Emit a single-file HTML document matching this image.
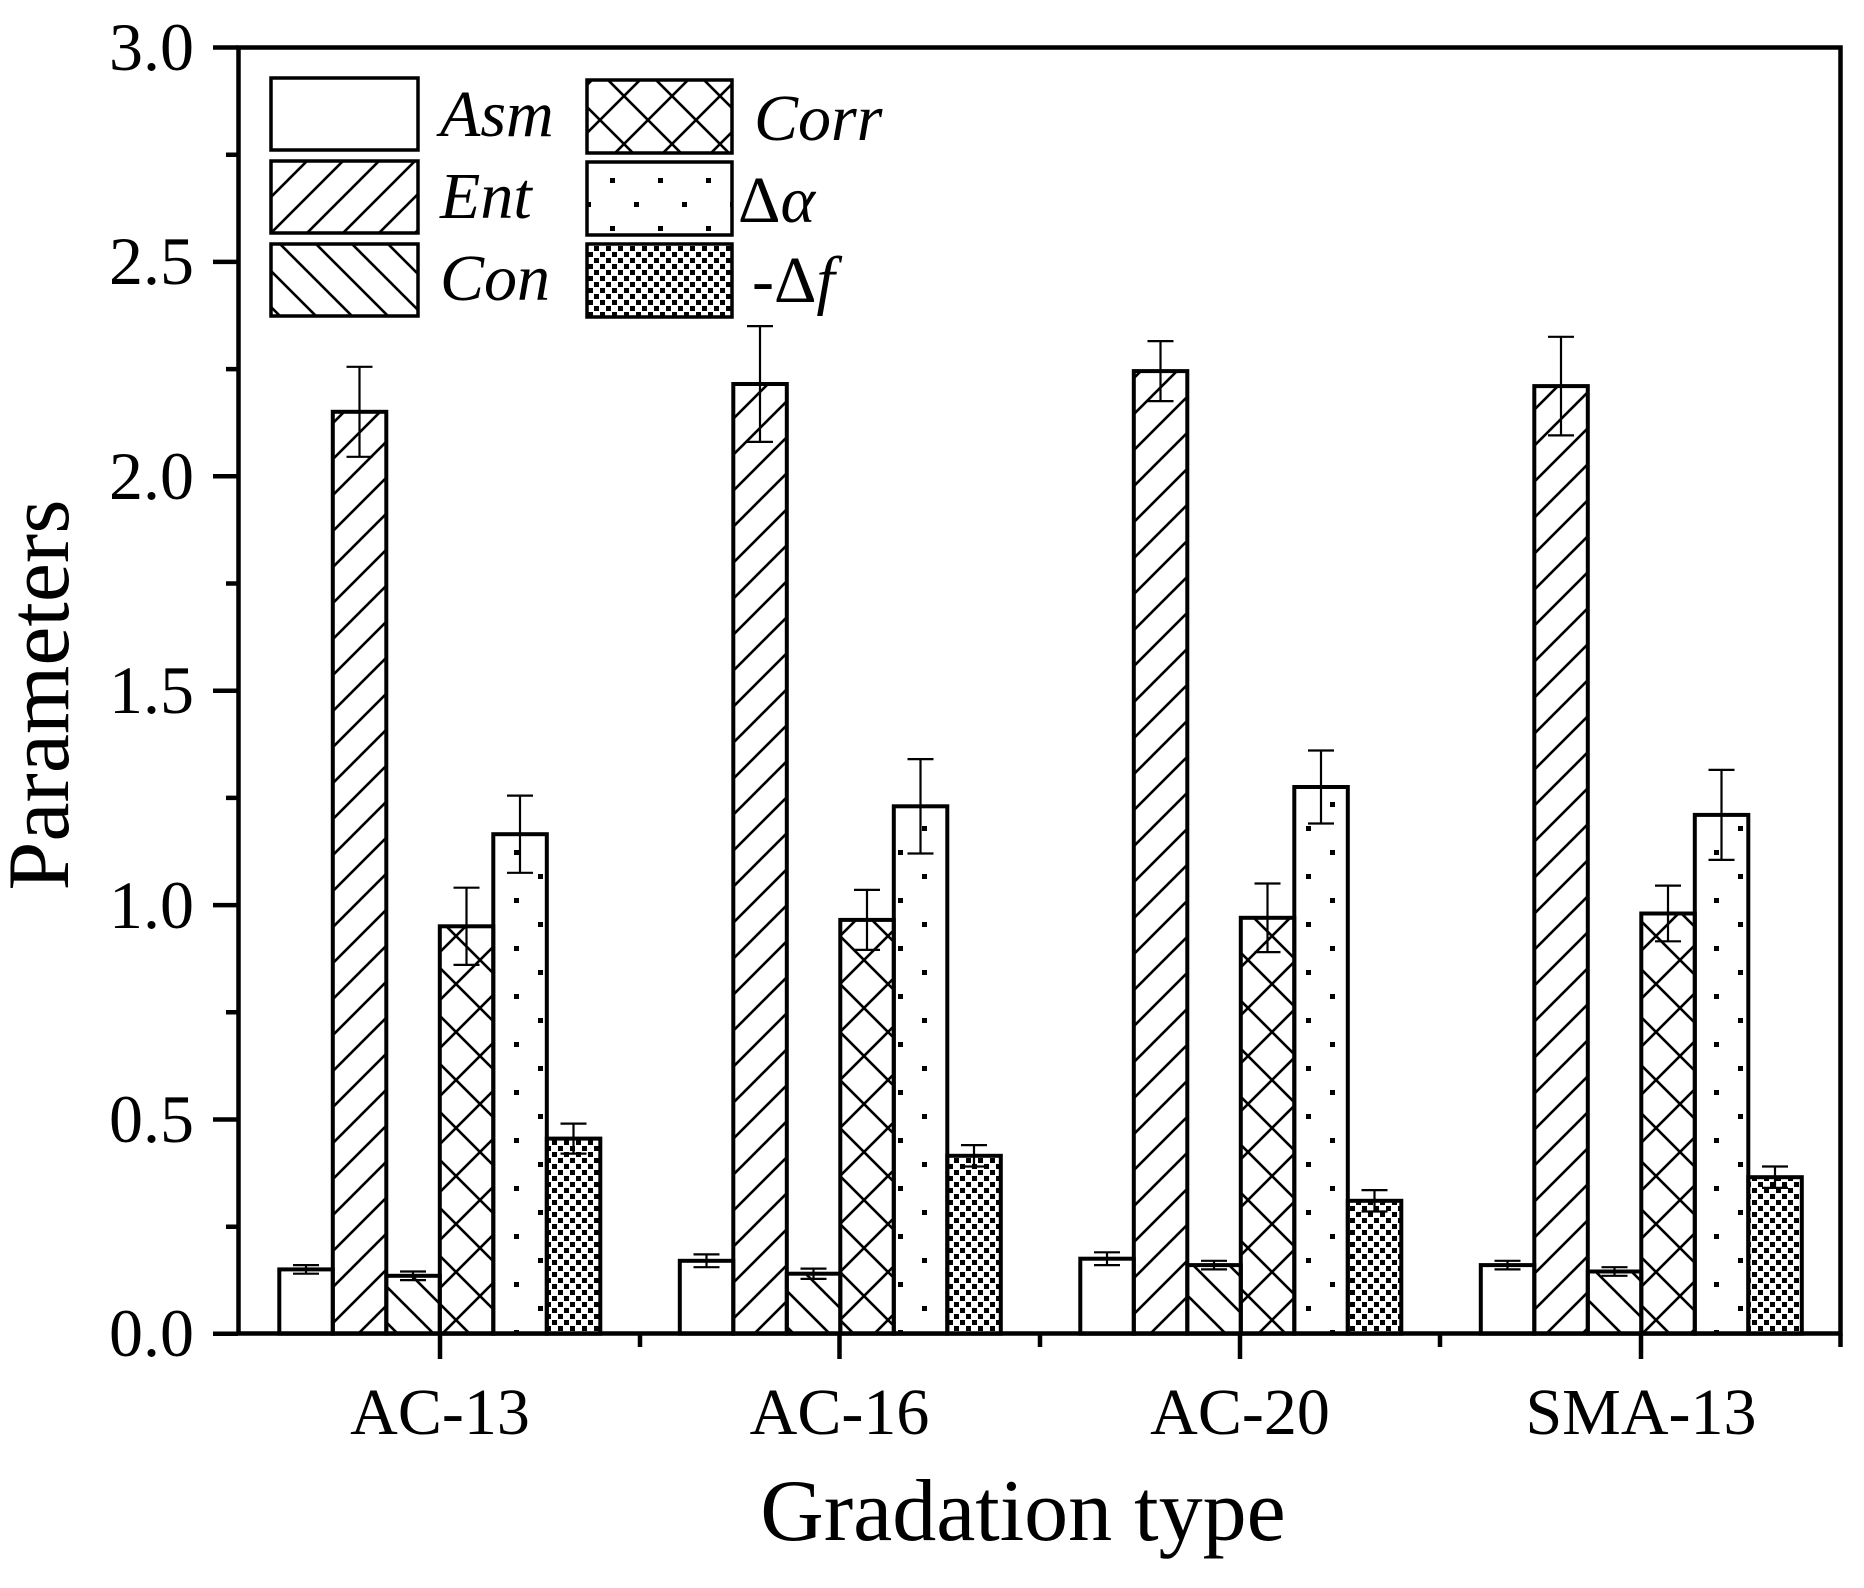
<!DOCTYPE html>
<html><head><meta charset="utf-8"><style>
html,body{margin:0;padding:0;background:#fff;}
svg{display:block;}
text{font-family:"Liberation Serif",serif;fill:#000;}
</style></head><body>
<svg width="1864" height="1588" viewBox="0 0 1864 1588" xmlns="http://www.w3.org/2000/svg">
<defs>
<pattern id="ent" patternUnits="userSpaceOnUse" width="36" height="36">
<path d="M-9,9 L9,-9 M0,36 L36,0 M27,45 L45,27" stroke="#000" stroke-width="2.6"/>
</pattern>
<pattern id="con" patternUnits="userSpaceOnUse" width="36" height="36">
<path d="M-9,27 L9,45 M0,0 L36,36 M27,-9 L45,9" stroke="#000" stroke-width="2.6"/>
</pattern>
<pattern id="corr" patternUnits="userSpaceOnUse" width="48" height="48">
<path d="M0,0 L48,48 M0,48 L48,0" stroke="#000" stroke-width="2.6"/>
</pattern>
<pattern id="dot" patternUnits="userSpaceOnUse" width="48" height="48">
<rect x="10" y="10" width="5" height="5" fill="#000"/>
<rect x="34" y="34" width="5" height="5" fill="#000"/>
</pattern>
<pattern id="chk" patternUnits="userSpaceOnUse" width="12" height="12">
<rect x="0" y="0" width="5" height="5" fill="#000"/>
<rect x="6" y="6" width="5" height="5" fill="#000"/>
</pattern>
</defs>
<rect width="1864" height="1588" fill="#fff"/>
<g stroke="#000" stroke-width="4">
<rect x="279.3" y="1269.4" width="53.5" height="64.3" fill="#fff"/>
<rect x="332.8" y="411.8" width="53.5" height="921.9" fill="url(#ent)"/>
<rect x="386.3" y="1275.8" width="53.5" height="57.9" fill="url(#con)"/>
<rect x="439.8" y="926.3" width="53.5" height="407.4" fill="url(#corr)"/>
<rect x="493.3" y="834.2" width="53.5" height="499.5" fill="url(#dot)"/>
<rect x="546.8" y="1138.6" width="53.5" height="195.1" fill="url(#chk)"/>
<rect x="679.8" y="1260.8" width="53.5" height="72.9" fill="#fff"/>
<rect x="733.3" y="384.0" width="53.5" height="949.7" fill="url(#ent)"/>
<rect x="786.8" y="1273.7" width="53.5" height="60.0" fill="url(#con)"/>
<rect x="840.3" y="919.9" width="53.5" height="413.8" fill="url(#corr)"/>
<rect x="893.8" y="806.3" width="53.5" height="527.4" fill="url(#dot)"/>
<rect x="947.3" y="1155.8" width="53.5" height="177.9" fill="url(#chk)"/>
<rect x="1080.3" y="1258.7" width="53.5" height="75.0" fill="#fff"/>
<rect x="1133.8" y="371.1" width="53.5" height="962.6" fill="url(#ent)"/>
<rect x="1187.3" y="1265.1" width="53.5" height="68.6" fill="url(#con)"/>
<rect x="1240.8" y="917.8" width="53.5" height="415.9" fill="url(#corr)"/>
<rect x="1294.3" y="787.0" width="53.5" height="546.7" fill="url(#dot)"/>
<rect x="1347.8" y="1200.8" width="53.5" height="132.9" fill="url(#chk)"/>
<rect x="1480.8" y="1265.1" width="53.5" height="68.6" fill="#fff"/>
<rect x="1534.3" y="386.1" width="53.5" height="947.6" fill="url(#ent)"/>
<rect x="1587.8" y="1271.5" width="53.5" height="62.2" fill="url(#con)"/>
<rect x="1641.3" y="913.5" width="53.5" height="420.2" fill="url(#corr)"/>
<rect x="1694.8" y="814.9" width="53.5" height="518.8" fill="url(#dot)"/>
<rect x="1748.3" y="1177.2" width="53.5" height="156.5" fill="url(#chk)"/>
</g>
<g stroke="#000" stroke-width="2.2" fill="none">
<path d="M306,1265.1V1273.7M293,1265.1H319M293,1273.7H319"/>
<path d="M359.5,366.8V456.8M346.5,366.8H372.5M346.5,456.8H372.5"/>
<path d="M413,1271.5V1280.1M400,1271.5H426M400,1280.1H426"/>
<path d="M466.5,887.7V964.9M453.5,887.7H479.5M453.5,964.9H479.5"/>
<path d="M520,795.6V872.8M507,795.6H533M507,872.8H533"/>
<path d="M573.5,1123.6V1153.6M560.5,1123.6H586.5M560.5,1153.6H586.5"/>
<path d="M706.5,1254.4V1267.2M693.5,1254.4H719.5M693.5,1267.2H719.5"/>
<path d="M760,326.1V441.9M747,326.1H773M747,441.9H773"/>
<path d="M813.5,1268.6V1278.9M800.5,1268.6H826.5M800.5,1278.9H826.5"/>
<path d="M867,889.9V949.9M854,889.9H880M854,949.9H880"/>
<path d="M920.5,759.1V853.5M907.5,759.1H933.5M907.5,853.5H933.5"/>
<path d="M974,1145.1V1166.5M961,1145.1H987M961,1166.5H987"/>
<path d="M1107,1252.3V1265.1M1094,1252.3H1120M1094,1265.1H1120"/>
<path d="M1160.5,341.1V401.1M1147.5,341.1H1173.5M1147.5,401.1H1173.5"/>
<path d="M1214,1260.8V1269.4M1201,1260.8H1227M1201,1269.4H1227"/>
<path d="M1267.5,883.5V952.1M1254.5,883.5H1280.5M1254.5,952.1H1280.5"/>
<path d="M1321,750.5V823.5M1308,750.5H1334M1308,823.5H1334"/>
<path d="M1374.5,1190.1V1211.5M1361.5,1190.1H1387.5M1361.5,1211.5H1387.5"/>
<path d="M1507.5,1260.8V1269.4M1494.5,1260.8H1520.5M1494.5,1269.4H1520.5"/>
<path d="M1561,336.8V435.4M1548,336.8H1574M1548,435.4H1574"/>
<path d="M1614.5,1267.2V1275.8M1601.5,1267.2H1627.5M1601.5,1275.8H1627.5"/>
<path d="M1668,885.6V941.3M1655,885.6H1681M1655,941.3H1681"/>
<path d="M1721.5,769.9V859.9M1708.5,769.9H1734.5M1708.5,859.9H1734.5"/>
<path d="M1775,1166.5V1187.9M1762,1166.5H1788M1762,1187.9H1788"/>
</g>
<rect x="238.5" y="47.5" width="1602" height="1286" fill="none" stroke="#000" stroke-width="4.5"/>
<g stroke="#000" stroke-width="4.5">
<path d="M213,47.5H238M213,261.9H238M213,476.3H238M213,690.7H238M213,905.1H238M213,1119.5H238M213,1333.7H238"/>
<path d="M226,154.7H238M226,369.1H238M226,583.5H238M226,797.9H238M226,1012.3H238M226,1226.7H238"/>
<path d="M440,1334V1359M839.5,1334V1359M1240,1334V1359M1641,1334V1359"/>
<path d="M640,1334V1347M1040,1334V1347M1440,1334V1347M1840.5,1334V1347"/>
</g>
<g font-size="68" text-anchor="end">
<text x="194" y="70">3.0</text>
<text x="194" y="284">2.5</text>
<text x="194" y="499">2.0</text>
<text x="194" y="713">1.5</text>
<text x="194" y="928">1.0</text>
<text x="194" y="1142">0.5</text>
<text x="194" y="1356">0.0</text>
</g>
<g font-size="66" text-anchor="middle">
<text x="440" y="1434">AC-13</text>
<text x="839.5" y="1434">AC-16</text>
<text x="1240" y="1434">AC-20</text>
<text x="1641" y="1434">SMA-13</text>
</g>
<text x="1023" y="1540" font-size="88" text-anchor="middle">Gradation type</text>
<text transform="translate(68,695) rotate(-90)" font-size="88" text-anchor="middle">Parameters</text>
<g stroke="#000" stroke-width="3.5">
<rect x="271" y="78" width="147" height="72" fill="#fff"/>
<rect x="271" y="161" width="147" height="72" fill="url(#ent)"/>
<rect x="271" y="244" width="147" height="72" fill="url(#con)"/>
<rect x="587" y="80" width="145" height="73" fill="url(#corr)"/>
<rect x="587" y="162" width="145" height="73" fill="url(#dot)"/>
<rect x="587" y="244" width="145" height="73" fill="url(#chk)"/>
</g>
<g font-size="66" font-style="italic">
<text x="440" y="136">Asm</text>
<text x="440" y="218">Ent</text>
<text x="440" y="300">Con</text>
<text x="754" y="140">Corr</text>
<text x="738" y="222"><tspan font-style="normal">Δ</tspan>α</text>
<text x="752" y="302"><tspan font-style="normal">-Δ</tspan>f</text>
</g>
</svg>
</body></html>
